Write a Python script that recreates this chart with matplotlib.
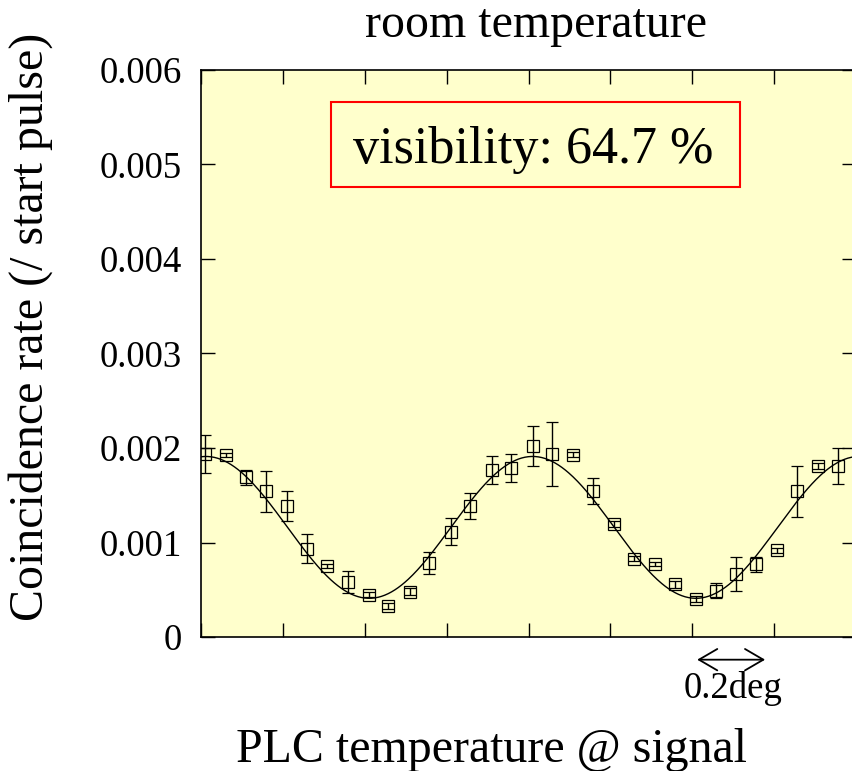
import numpy as np
import matplotlib
matplotlib.use('Agg')
import matplotlib.pyplot as plt
import matplotlib.patches as mpatches

# measured coincidence rate vs PLC temperature (x in tick-interval units)
x_pos = [0.05, 0.30, 0.55, 0.79, 1.05, 1.29, 1.54, 1.79,
         2.05, 2.29, 2.55, 2.79, 3.05, 3.29, 3.55, 3.79,
         4.05, 4.29, 4.54, 4.79, 5.04, 5.29, 5.54, 5.79,
         6.04, 6.29, 6.54, 6.78, 7.04, 7.28, 7.54, 7.78]
rate = [1.94, 1.93, 1.69, 1.54, 1.39, 0.935, 0.755, 0.585,
        0.448, 0.328, 0.48, 0.78, 1.115, 1.386, 1.767, 1.785,
        2.02, 1.94, 1.93, 1.545, 1.196, 0.83, 0.77, 0.557,
        0.402, 0.49, 0.67, 0.77, 0.917, 1.54, 1.81, 1.81]
rate_err = [0.20, 0.02, 0.08, 0.22, 0.16, 0.155, 0.02, 0.115,
            0.03, 0.03, 0.04, 0.115, 0.145, 0.14, 0.15, 0.15,
            0.215, 0.34, 0.03, 0.14, 0.03, 0.03, 0.02, 0.04,
            0.03, 0.08, 0.18, 0.08, 0.03, 0.265, 0.03, 0.195]

# fit parameters (cosine fringe)
fit_mean = 1.16
fit_vis = 0.647
fit_x0 = 0.06
fit_period = 3.99

ytick_vals = [0, 0.001, 0.002, 0.003, 0.004, 0.005, 0.006]
ytick_labels = ['0', '0.001', '0.002', '0.003', '0.004', '0.005', '0.006']

plt.rcParams['font.family'] = ['Liberation Serif', 'DejaVu Serif']

W, H = 852, 771
fig = plt.figure(figsize=(W / 100., H / 100.), dpi=100)
ax = fig.add_axes([201. / W, 1 - 637. / H, (856. - 201.) / W, (637. - 70.) / H])
ax.set_facecolor('#ffffcc')

xs = np.asarray(x_pos)
ys = np.asarray(rate) * 1e-3
es = np.asarray(rate_err) * 1e-3
ax.errorbar(xs, ys, yerr=es, fmt='s', mfc='none', mec='black', mew=0.9,
            ms=8.5, ecolor='black', elinewidth=1.0, capsize=4.5, capthick=1.0,
            zorder=3)

xx = np.linspace(0, 8.2, 600)
yy = fit_mean * 1e-3 * (1 + fit_vis * np.cos(2 * np.pi * (xx - fit_x0) / fit_period))
ax.plot(xx, yy, color='black', lw=1.0, zorder=2)

ax.set_xlim(0, 8)
ax.set_ylim(0, 0.006)
ax.set_xticks(range(0, 9))
ax.set_xticklabels([])
ax.set_yticks(ytick_vals)
ax.set_yticklabels(ytick_labels)
ax.tick_params(direction='in', top=True, right=True, length=10, width=1,
               labelsize=26.5, pad=14)
for sp in ax.spines.values():
    sp.set_linewidth(1.2)

# visibility box
box = mpatches.Rectangle((331. / W, 1 - 187. / H), (740. - 331.) / W, (187. - 102.) / H,
                         transform=fig.transFigure, fill=False, ec='red', lw=1.5, zorder=5)
fig.patches.append(box)
fig.text(533. / W, 1 - 163. / H, 'visibility: 64.7 %', ha='center', va='baseline', fontsize=37.5)

# scale arrow 0.2 deg
ax.annotate('', xy=(6.06, -0.00024), xytext=(6.89, -0.00024),
            xycoords='data', textcoords='data', annotation_clip=False,
            arrowprops=dict(arrowstyle='<->,head_length=0.6,head_width=0.35', color='black', lw=1.3,
                            mutation_scale=22, shrinkA=0, shrinkB=0))
fig.text(733. / W, 1 - 698. / H, '0.2deg', ha='center', va='baseline', fontsize=26.5)

fig.text(536. / W, 1 - 37. / H, 'room temperature', ha='center', va='baseline', fontsize=34.5)
fig.text(492. / W, 1 - 762. / H, 'PLC temperature @ signal', ha='center', va='baseline', fontsize=34.5)
fig.text(31. / W, 1 - 327. / H, 'Coincidence rate (/ start pulse)', rotation=90,
         ha='center', va='center', fontsize=34.5)

fig.savefig('out.png', dpi=100)
